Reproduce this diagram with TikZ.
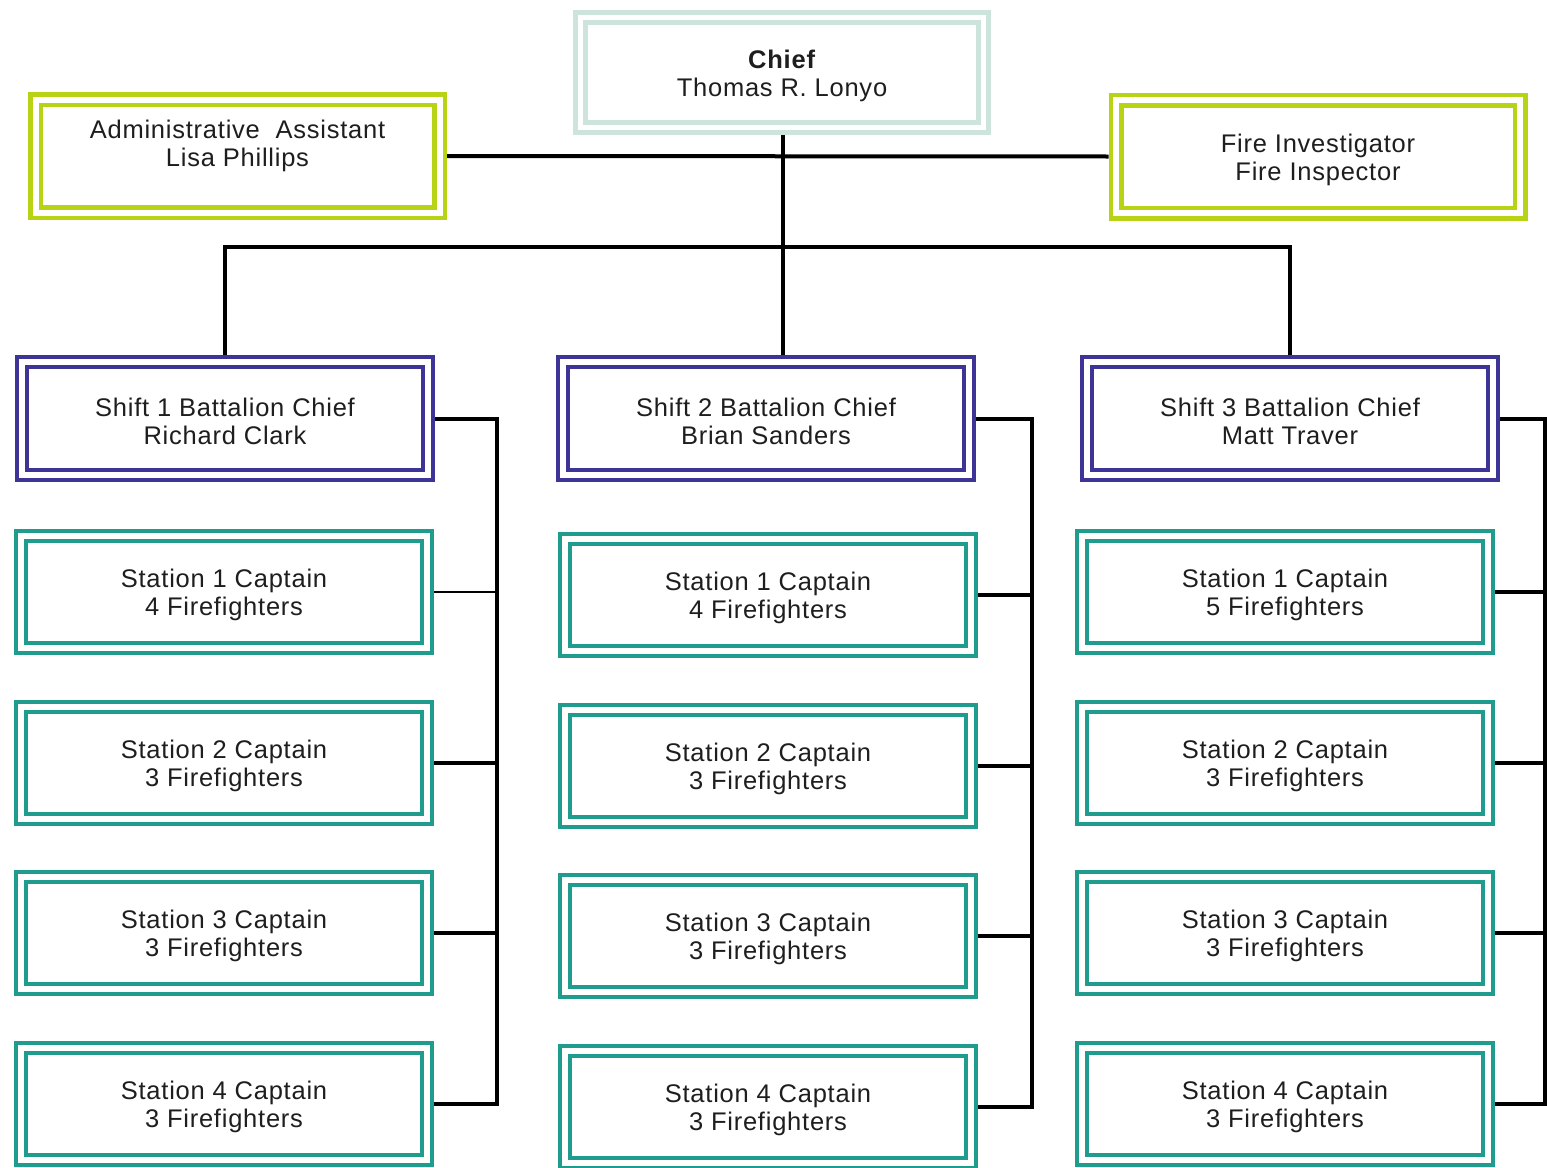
\documentclass[tikz,border=0pt]{standalone}
\usepackage{fontspec}
\setmainfont{Liberation Sans}[LetterSpace=3]
\definecolor{chiefc}{RGB}{205,228,220}
\definecolor{adminc}{RGB}{184,210,20}
\definecolor{batc}{RGB}{62,52,152}
\definecolor{stc}{RGB}{32,156,142}
\definecolor{txtc}{RGB}{30,30,30}
\newcommand\Tup{\rule{0pt}{25pt}}
\tikzset{
  box/.style={draw, double=white, inner sep=0pt, align=center, text=txtc,
    font=\fontsize{25.5}{28}\selectfont},
  chiefbox/.style={box, draw=chiefc, line width=5pt, double distance=5pt,
    outer sep=7.5pt, minimum width=403pt, minimum height=110pt},
  adminbox/.style={box, draw=adminc, line width=4.5pt, double distance=6pt,
    outer sep=7.5pt, minimum width=404pt, minimum height=113pt},
  batbox/.style={box, draw=batc, line width=4pt, double distance=6pt,
    outer sep=7pt, minimum width=406pt, minimum height=113pt},
  stbox/.style={box, draw=stc, line width=4pt, double distance=6pt,
    outer sep=7pt, minimum width=406pt, minimum height=112pt},
  conn/.style={draw=black, line width=4pt},
  thinconn/.style={draw=black, line width=1.5pt}
}
\begin{document}
\begin{tikzpicture}[x=1pt,y=-1pt]
\useasboundingbox (0,0) rectangle (1547,1167);
\clip (0,0) rectangle (1547,1167);
\fill[white] (0,0) rectangle (1547,1167);

% top level
\node[chiefbox] (chief) at (782,72.5) {\Tup\textbf{Chief}\\Thomas R. Lonyo};
\node[adminbox] (admin) at (237.5,156)
  {Administrative\ \ Assistant\\Lisa Phillips\\[-10pt]\strut};
\node[adminbox] (fi) at (1318,156.5) {\Tup Fire Investigator\\Fire Inspector};

% battalion chiefs
\node[batbox] (b1) at (225,418.5) {\Tup Shift 1 Battalion Chief\\Richard Clark};
\node[batbox] (b2) at (766,418.5) {\Tup Shift 2 Battalion Chief\\Brian Sanders};
\node[batbox] (b3) at (1290,418.5) {\Tup Shift 3 Battalion Chief\\Matt Traver};

% stations column 1
\node[stbox] (s11) at (224,592) {\Tup Station 1 Captain\\4 Firefighters};
\node[stbox] (s12) at (224,763) {\Tup Station 2 Captain\\3 Firefighters};
\node[stbox] (s13) at (224,933) {\Tup Station 3 Captain\\3 Firefighters};
\node[stbox] (s14) at (224,1104) {\Tup Station 4 Captain\\3 Firefighters};
% stations column 2
\node[stbox] (s21) at (768,595) {\Tup Station 1 Captain\\4 Firefighters};
\node[stbox] (s22) at (768,766) {\Tup Station 2 Captain\\3 Firefighters};
\node[stbox] (s23) at (768,936) {\Tup Station 3 Captain\\3 Firefighters};
\node[stbox] (s24) at (768,1107) {\Tup Station 4 Captain\\3 Firefighters};
% stations column 3
\node[stbox] (s31) at (1285,592) {\Tup Station 1 Captain\\5 Firefighters};
\node[stbox] (s32) at (1285,763) {\Tup Station 2 Captain\\3 Firefighters};
\node[stbox] (s33) at (1285,933) {\Tup Station 3 Captain\\3 Firefighters};
\node[stbox] (s34) at (1285,1104) {\Tup Station 4 Captain\\3 Firefighters};

% bus coordinates
\coordinate (hbar) at (783,247);
\coordinate (bus1) at (497,0);
\coordinate (bus2) at (1032,0);
\coordinate (bus3) at (1545,0);

% top connectors
\draw[conn] (admin.east) -- (fi.west);
\draw[conn] (chief.south -| hbar) -- (b2.north -| hbar);
\draw[conn] (b1.north) -- (b1.north |- hbar) -- (b3.north |- hbar) -- (b3.north);

% column 1
\draw[conn] (b1.east) -- (b1.east -| bus1) -- (s14.east -| bus1) -- (s14.east);
\draw[thinconn] (s11.east) -- (s11.east -| bus1);
\draw[conn] (s12.east) -- (s12.east -| bus1);
\draw[conn] (s13.east) -- (s13.east -| bus1);
% column 2
\draw[conn] (b2.east) -- (b2.east -| bus2) -- (s24.east -| bus2) -- (s24.east);
\draw[conn] (s21.east) -- (s21.east -| bus2);
\draw[conn] (s22.east) -- (s22.east -| bus2);
\draw[conn] (s23.east) -- (s23.east -| bus2);
% column 3
\draw[conn] (b3.east) -- (b3.east -| bus3) -- (s34.east -| bus3) -- (s34.east);
\draw[conn] (s31.east) -- (s31.east -| bus3);
\draw[conn] (s32.east) -- (s32.east -| bus3);
\draw[conn] (s33.east) -- (s33.east -| bus3);
\end{tikzpicture}
\end{document}
